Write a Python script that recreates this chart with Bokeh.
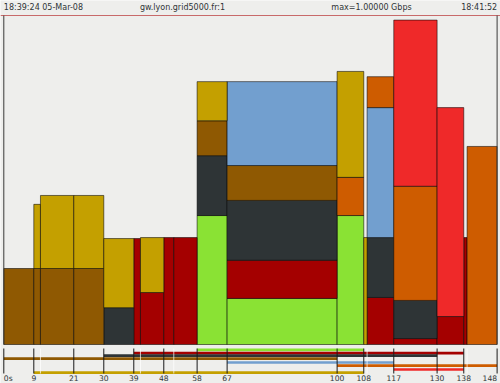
import numpy as np
from bokeh.plotting import figure
from bokeh.models import Range1d
from bokeh.core.properties import value
from bokeh.embed import file_html
from bokeh.resources import INLINE

# ---------------- data ----------------
interval_start = [0, 9, 11, 21, 30, 39, 41, 48, 51, 58, 67, 100, 108, 109, 117, 130, 138, 139]
interval_end   = [9, 11, 21, 30, 39, 41, 48, 51, 58, 67, 100, 108, 109, 117, 130, 138, 139, 148]

# throughput per flow per interval (Mbps), stacking order bottom -> top
green    = [0, 0, 0, 0, 0, 0, 0, 0, 0, 392, 140, 392, 0, 0, 0, 0, 0, 0]
darkred  = [0, 0, 0, 0, 0, 322, 158, 325, 325, 0, 116, 0, 0, 143, 18, 85, 325, 0]
darkgray = [0, 0, 0, 0, 112, 0, 0, 0, 0, 182, 182, 0, 0, 182, 116, 0, 0, 0]
brown    = [231, 231, 231, 231, 0, 0, 0, 0, 0, 106, 106, 0, 0, 0, 0, 0, 0, 0]
blue     = [0, 0, 0, 0, 0, 0, 0, 0, 0, 0, 255, 0, 0, 395, 0, 0, 0, 0]
orange   = [0, 0, 0, 0, 0, 0, 0, 0, 0, 0, 0, 116, 0, 94, 347, 0, 0, 602]
gold     = [0, 195, 222, 222, 210, 0, 167, 0, 0, 119, 0, 322, 325, 0, 0, 0, 0, 0]
red      = [0, 0, 0, 0, 0, 0, 0, 0, 0, 0, 0, 0, 0, 0, 505, 635, 0, 0]

flow_names   = ["green", "darkred", "darkgray", "brown", "blue", "orange", "gold", "red"]
flow_values  = [green, darkred, darkgray, brown, blue, orange, gold, red]
flow_colors  = ["#8AE234", "#A40000", "#2E3436", "#8F5902", "#729FCF", "#CE5C00", "#C4A000", "#EF2929"]

# flow lifetimes (s) for the timeline strip
flow_start = [58, 39, 30, 0, 67, 100, 9, 117]
flow_end   = [108, 138, 130, 100, 117, 148, 108, 138]
# lane order in the strip (top -> bottom)
lane_order = ["green", "darkred", "darkgray", "brown", "blue", "orange", "red", "gold"]

tick_values = [0, 9, 21, 30, 39, 48, 58, 67, 100, 108, 117, 130, 138, 148]
tick_labels = ["0s", "9", "21", "30", "39", "48", "58", "67", "100", "108", "117", "130", "138", "148"]
minor_bounds = [11, 41, 51, 109, 139]

max_mbps = 1000
header_left = "18:39:24 05-Mar-08"
header_host = "gw.lyon.grid5000.fr:1"
header_max = "max=1.00000 Gbps"
header_right = "18:41:52"

# ---------------- layout ----------------
W, H = 500, 383
PX0, PX1 = 3.3, 496.6          # pixel x of t=0 and t=148
T0, T1 = 0, 148
xs = (PX1 - PX0) / (T1 - T0)
YTOP, YBASE = 15.0, 344.0       # pixel y of max and of 0
ys = (YBASE - YTOP) / max_mbps

def ypix(pix):
    return (YBASE - pix) / ys

def xpix(pix):
    return (pix - PX0) / xs

BG = "#EEEEEC"
FONT = value("DejaVu Sans")

p = figure(width=W, height=H,
           x_range=Range1d(T0 - PX0 / xs, T1 + (W - PX1) / xs),
           y_range=Range1d(-(H - YBASE) / ys, max_mbps + YTOP / ys),
           x_axis_type=None, y_axis_type=None,
           output_backend="svg", toolbar_location=None,
           min_border=0, min_border_left=0, min_border_right=0,
           min_border_top=0, min_border_bottom=0,
           background_fill_color=BG, border_fill_color=BG,
           outline_line_color=None)
p.grid.visible = False

# ---------------- stacked bars ----------------
starts = np.array(interval_start, dtype=float)
ends = np.array(interval_end, dtype=float)
bottom = np.zeros(len(starts))
for name, vals, col in zip(flow_names, flow_values, flow_colors):
    v = np.array(vals, dtype=float)
    top = bottom + v
    m = v > 0
    if m.any():
        p.quad(left=starts[m], right=ends[m], bottom=bottom[m], top=top[m],
               fill_color=col, line_color="#000000", line_alpha=0.6, line_width=0.9)
    bottom = top

# frame lines
p.segment(x0=[T0 - 1], x1=[T1 + 1], y0=[max_mbps], y1=[max_mbps], line_color="#C86A6A", line_width=1)
p.segment(x0=[T0, T1], x1=[T0, T1], y0=[0, 0], y1=[max_mbps, max_mbps],
          line_color="#3A3A3A", line_width=1)

# ---------------- timeline strip ----------------
lane_pix = [349.3, 352.7, 355.2, 358.2, 362.0, 365.2, 369.0, 372.2]
for i, name in enumerate(lane_order):
    k = flow_names.index(name)
    yl = ypix(lane_pix[i])
    p.segment(x0=[flow_start[k]], x1=[flow_end[k]], y0=[yl], y1=[yl],
              line_color=flow_colors[k], line_width=2.7)

# boundary ticks
p.segment(x0=minor_bounds, x1=minor_bounds,
          y0=[ypix(348.0)] * len(minor_bounds), y1=[ypix(373.0)] * len(minor_bounds),
          line_color="#FFFFFF", line_alpha=0.7, line_width=1)
p.segment(x0=tick_values, x1=tick_values,
          y0=[ypix(348.0)] * len(tick_values), y1=[ypix(373.0)] * len(tick_values),
          line_color="#1A1A1A", line_width=1)

ty = ypix(377.5)
tick_size = value("7.6px")
p.text(x=tick_values[:1], y=[ty], text=tick_labels[:1], text_align="left",
       text_baseline="middle", text_font=FONT, text_font_size=tick_size, text_color="#2E3436")
p.text(x=tick_values[1:-1], y=[ty] * (len(tick_values) - 2), text=tick_labels[1:-1],
       text_align="center", text_baseline="middle", text_font=FONT,
       text_font_size=tick_size, text_color="#2E3436")
p.text(x=tick_values[-1:], y=[ty], text=tick_labels[-1:], text_align="right",
       text_baseline="middle", text_font=FONT, text_font_size=tick_size, text_color="#2E3436")

# ---------------- header ----------------
hy = ypix(7.2)
hsize = value("8px")
p.text(x=[T0], y=[hy], text=[header_left], text_align="left", text_baseline="middle",
       text_font=FONT, text_font_size=hsize, text_color="#2E3436")
p.text(x=[xpix(182.0), xpix(371.0)], y=[hy, hy], text=[header_host, header_max],
       text_align="center", text_baseline="middle",
       text_font=FONT, text_font_size=hsize, text_color="#2E3436")
p.text(x=[T1], y=[hy], text=[header_right], text_align="right", text_baseline="middle",
       text_font=FONT, text_font_size=hsize, text_color="#2E3436")

open("out.html", "w").write(file_html(p, INLINE))
